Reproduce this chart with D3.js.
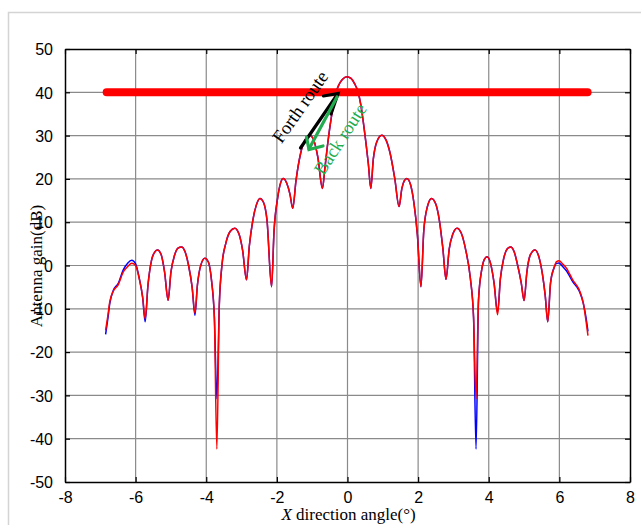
<!DOCTYPE html>
<html>
<head>
<meta charset="utf-8">
<script src="https://cdn.jsdelivr.net/npm/d3@7"></script>
<style>
  html, body { margin: 0; padding: 0; background: #fff; }
  svg { display: block; }
</style>
</head>
<body>
<svg id="chart" width="641" height="525"></svg>
<script>
// ---- data ----
const angles = [
-6.85,-6.79,-6.73,-6.63,-6.49,-6.35,-6.22,-6.11,-6.00,-5.90,-5.80,-5.73,-5.65,-5.55,-5.45,-5.38,-5.28,-5.18,-5.08,-5.00,
-4.90,-4.80,-4.70,-4.60,-4.50,-4.40,-4.32,-4.25,-4.15,-4.04,-3.94,-3.85,-3.77,-3.70,-3.63,-3.55,-3.45,-3.32,-3.19,-3.07,
-2.97,-2.86,-2.78,-2.68,-2.58,-2.48,-2.38,-2.28,-2.15,-2.08,-1.98,-1.89,-1.82,-1.72,-1.63,-1.55,-1.46,-1.33,-1.19,-1.06,
-0.95,-0.84,-0.71,-0.64,-0.57,-0.49,-0.41,-0.33,-0.24,-0.14,-0.02,
0.10,0.20,0.29,0.38,0.45,0.52,0.59,0.66,0.73,0.83,0.97,1.09,1.21,1.34,1.46,1.54,1.61,1.68,1.78,1.88,
1.98,2.08,2.16,2.26,2.38,2.50,2.60,2.70,2.79,2.88,2.98,3.10,3.22,3.35,3.48,3.57,3.64,3.71,3.80,3.88,
3.95,4.05,4.15,4.25,4.33,4.42,4.52,4.62,4.72,4.82,4.92,5.00,5.08,5.18,5.31,5.42,5.52,5.60,5.67,5.75,
5.85,5.92,5.99,6.10,6.20,6.39,6.50,6.58,6.68,6.75,6.81];

const gainBlue = [
-15.9,-12.5,-8.7,-5.7,-4.1,-1.0,0.6,1.2,0.4,-2.8,-7.5,-13.0,-4.5,1.2,3.2,3.6,2.6,-1.5,-8.0,-1.5,
2.3,4.0,4.3,3.2,0.0,-5.0,-11.5,-4.5,0.2,1.7,0.8,-3.5,-12.0,-30.8,-9.0,0.5,5.0,7.9,8.6,7.2,
3.5,-3.3,4.5,10.5,14.0,15.5,14.6,10.5,-4.9,8.0,15.5,19.2,20.1,19.0,16.5,13.2,19.5,25.8,29.2,30.0,
28.8,25.0,17.8,22.5,27.5,32.5,36.5,39.8,41.8,43.0,43.6,
43.2,42.0,40.3,37.0,33.0,28.5,23.5,17.8,24.5,28.6,30.1,29.0,25.8,20.0,13.6,17.8,19.6,20.1,18.8,14.5,
7.0,-4.9,8.0,13.5,15.5,14.2,10.5,4.0,-3.2,3.8,7.2,8.6,7.5,3.5,-3.0,-12.0,-42.4,-8.0,-1.0,1.5,
2.0,0.5,-4.0,-10.8,-3.0,1.5,3.8,4.3,3.2,0.0,-4.0,-8.1,-1.5,2.5,3.6,2.0,-2.0,-7.0,-13.0,-4.0,
-0.5,0.5,0.6,-0.3,-1.2,-3.9,-5.0,-6.2,-8.8,-11.8,-15.2];

const gainRed = [
-15.0,-11.8,-8.3,-5.9,-4.4,-1.5,-0.2,0.5,0.0,-3.0,-7.3,-12.3,-4.5,1.2,3.2,3.6,2.6,-1.5,-8.0,-1.5,
2.3,4.0,4.3,3.2,0.0,-5.0,-11.0,-4.5,0.2,1.7,0.8,-3.5,-12.0,-42.4,-9.0,0.5,5.0,7.9,8.6,7.2,
3.5,-3.3,4.5,10.5,14.0,15.5,14.6,10.5,-4.9,8.0,15.5,19.2,20.1,19.0,16.5,13.2,19.5,25.8,29.2,30.0,
28.8,25.0,17.8,22.5,27.5,32.5,36.5,39.8,41.8,43.0,43.6,
43.2,42.0,40.3,37.0,33.0,28.5,23.5,17.8,24.5,28.6,30.1,29.0,25.8,20.0,13.6,17.8,19.6,20.1,18.8,14.5,
7.0,-4.9,8.0,13.5,15.5,14.2,10.5,4.0,-3.2,3.8,7.2,8.6,7.5,3.5,-3.0,-12.0,-30.8,-8.0,-1.0,1.5,
2.0,0.5,-4.0,-11.4,-3.0,1.5,3.8,4.3,3.2,0.0,-4.0,-8.1,-1.5,2.5,3.6,2.0,-2.0,-7.0,-13.0,-4.0,
-0.5,0.9,1.1,0.3,-0.6,-3.5,-4.7,-6.0,-8.8,-12.5,-16.2];

const levelX = [-6.82, 6.80];
const levelY = [40, 40];

const xTicks = [-8,-6,-4,-2,0,2,4,6,8];
const yTicks = [-50,-40,-30,-20,-10,0,10,20,30,40,50];

// ---- layout ----
const svg = d3.select("#chart");
const L = 65, R = 630, T = 49, B = 482;
const x = d3.scaleLinear().domain([-8, 8]).range([L, R]);
const y = d3.scaleLinear().domain([-50, 50]).range([B, T]);

// outer light frame
svg.append("path")
  .attr("d", `M8.5,525 L8.5,12.5 L641,12.5`)
  .attr("fill", "none").attr("stroke", "#d4d4d4").attr("stroke-width", 1.5);

// grid
const grid = svg.append("g").attr("stroke", "#8a8a8a").attr("stroke-width", 1.2);
xTicks.slice(1, -1).forEach(t => {
  grid.append("line").attr("x1", x(t)).attr("x2", x(t)).attr("y1", T).attr("y2", B);
});
yTicks.slice(1, -1).forEach(t => {
  grid.append("line").attr("x1", L).attr("x2", R).attr("y1", y(t)).attr("y2", y(t));
});

// curves
const pts = (ys) => angles.map((a, i) => [a, ys[i]]);
const line = d3.line().x(d => x(d[0])).y(d => y(d[1])).curve(d3.curveMonotoneX);
svg.append("path").datum(pts(gainBlue)).attr("d", line)
  .attr("fill", "none").attr("stroke", "#0000ff").attr("stroke-width", 1.5);
svg.append("path").datum(pts(gainRed)).attr("d", line)
  .attr("fill", "none").attr("stroke", "#ff0000").attr("stroke-width", 1.5);

// thick red level line
svg.append("path")
  .datum(levelX.map((v, i) => [v, levelY[i]]))
  .attr("d", d3.line().x(d => x(d[0])).y(d => y(d[1])))
  .attr("stroke", "#ff0000").attr("stroke-width", 8).attr("stroke-linecap", "round").attr("fill", "none");

// axes (ticks inside, box)
const fontTick = "'Liberation Sans', Arial, sans-serif";
const fmt = d => String(d);
const gB = svg.append("g").attr("transform", `translate(0,${B})`)
  .call(d3.axisBottom(x).tickValues(xTicks).tickSizeInner(-5).tickSizeOuter(0).tickPadding(10).tickFormat(fmt));
const gT = svg.append("g").attr("transform", `translate(0,${T})`)
  .call(d3.axisTop(x).tickValues(xTicks).tickSizeInner(-5).tickSizeOuter(0).tickFormat(""));
const gL = svg.append("g").attr("transform", `translate(${L},0)`)
  .call(d3.axisLeft(y).tickValues(yTicks).tickSizeInner(-5).tickSizeOuter(0).tickPadding(12).tickFormat(fmt));
const gR = svg.append("g").attr("transform", `translate(${R},0)`)
  .call(d3.axisRight(y).tickValues(yTicks).tickSizeInner(-5).tickSizeOuter(0).tickFormat(""));
[gB, gT, gL, gR].forEach(g => {
  g.select(".domain").attr("stroke", "#000").attr("stroke-width", 1.5);
  g.selectAll(".tick line").attr("stroke", "#000").attr("stroke-width", 1.2);
  g.selectAll("text").attr("font-family", fontTick).attr("font-size", 16).attr("fill", "#000");
});
gL.selectAll("text").attr("dy", "0.36em");

// axis titles
const serif = "'Liberation Serif', 'Times New Roman', serif";
const xt = svg.append("text").attr("x", (L + R) / 2 + 1).attr("y", 520)
  .attr("text-anchor", "middle").attr("font-family", serif).attr("font-size", 17);
xt.append("tspan").attr("font-style", "italic").text("X");
xt.append("tspan").text(" direction angle(°)");

svg.append("text").attr("transform", `translate(42,266) rotate(-90)`)
  .attr("text-anchor", "middle").attr("font-family", serif).attr("font-size", 17)
  .text("Antenna gain(dB)");

// annotations
// black forth arrow
svg.append("line").attr("x1", 300.5).attr("y1", 148).attr("x2", 338).attr("y2", 93.5)
  .attr("stroke", "#000").attr("stroke-width", 3.2).attr("stroke-linecap", "round");
svg.append("path").attr("d", "M323.5,96 L338,93.5 L331,114")
  .attr("fill", "none").attr("stroke", "#000").attr("stroke-width", 3.2)
  .attr("stroke-linecap", "round").attr("stroke-linejoin", "miter");
svg.append("text").attr("transform", "translate(309,113) rotate(-55)")
  .attr("text-anchor", "middle").attr("dy", "-0.25em")
  .attr("font-family", serif).attr("font-size", 18.5).attr("fill", "#000")
  .text("Forth route");

// green back arrow
const green = "#21ad4f";
svg.append("line").attr("x1", 337).attr("y1", 97).attr("x2", 309).attr("y2", 149)
  .attr("stroke", green).attr("stroke-width", 3.2).attr("stroke-linecap", "round");
svg.append("path").attr("d", "M306.5,137 L309,149.5 L323,146")
  .attr("fill", "none").attr("stroke", green).attr("stroke-width", 3.2)
  .attr("stroke-linecap", "round");
svg.append("text").attr("transform", "translate(340,139) rotate(-57)")
  .attr("text-anchor", "middle").attr("dy", "0.35em")
  .attr("font-family", serif).attr("font-size", 18.5).attr("fill", green)
  .text("Back route");
</script>
</body>
</html>
